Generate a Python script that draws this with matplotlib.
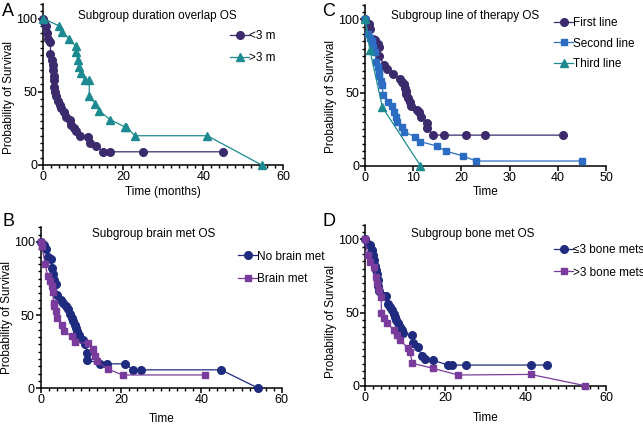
import matplotlib
matplotlib.use("Agg")
import matplotlib.pyplot as plt
from matplotlib.ticker import MultipleLocator

plt.rcParams['font.family'] = ['Liberation Sans', 'DejaVu Sans']

# ---- Panel A: duration overlap ----
a_lt3_t = [0, 0.3, 0.75, 1.0, 1.3, 1.8, 1.8, 2.2, 2.4, 2.4, 2.7, 2.7, 2.8, 3.0, 3.2, 3.7, 4.1,
           4.5, 5.2, 5.8, 6.6, 7.0, 7.7, 8.3, 9.1, 11.2, 11.6, 13.3, 14.9, 16.6, 25.0, 45.0]
a_lt3_s = [100, 98, 95, 90, 86, 84, 76, 72, 68, 65, 61, 58, 53, 50, 47, 44, 41,
           39, 36, 33, 31, 27, 25, 23, 20, 19, 15, 13, 9, 9, 9, 9]
a_gt3_t = [0, 4.0, 4.8, 6.5, 8.2, 8.2, 8.6, 9.0, 9.4, 10.4, 11.5, 11.5, 13.0, 14.0, 16.7,
           20.4, 20.8, 22.9, 41.0, 54.6]
a_gt3_s = [100, 95, 91, 86, 81, 77, 72, 67, 63, 58, 58, 47, 42, 37, 31,
           26, 26, 20, 20, 0]

# ---- Panel C: line of therapy ----
c_first_t = [0, 0.9, 1.0, 1.6, 2.1, 2.6, 2.8, 3.0, 4.0, 4.5, 5.7, 7.3, 7.6, 8.0, 8.3, 8.5, 8.6,
             9.0, 9.3, 9.5, 10.7, 11.1, 11.6, 12.8, 12.9, 14.0, 16.4, 21.0, 24.9, 41.0]
c_first_s = [100, 96.6, 93.6, 86.8, 85.7, 83.4, 81, 74.8, 68.6, 65.9, 62.5, 59, 57.3, 55.7, 53.4,
             51.1, 48.9, 46.6, 43.6, 40.7, 38, 36.8, 33.4, 29.3, 26.1, 20.9, 20.9, 20.9, 20.9, 20.9]
c_second_t = [0, 0.7, 1.0, 1.4, 1.7, 2.1, 2.3, 2.6, 2.8, 3.0, 3.3, 3.5, 3.8, 4.8, 5.5, 6.0, 6.4,
              6.6, 7.6, 8.0, 10.4, 11.5, 15.0, 16.7, 20.4, 23.0, 45.0]
c_second_s = [100, 90, 87, 85, 81, 78, 71, 67.5, 64, 61, 58, 55, 48.2, 43.6, 40.7, 36.8, 33.4,
              30, 26.6, 23.2, 19.8, 16.4, 13.4, 10, 6.6, 3.2, 3.2]
c_third_t = [0, 1.0, 3.6, 11.5]
c_third_s = [100, 79, 40, 0]

# ---- Panel B: brain met ----
b_no_t = [0, 0.8, 1.3, 1.9, 2.5, 2.7, 3.0, 3.3, 3.8, 4.1, 5.0, 5.6, 6.3, 6.9, 7.3, 7.7, 8.1, 8.5,
          8.8, 9.1, 9.6, 10.5, 11.0, 11.6, 11.6, 14.8, 16.4, 21.0, 23.1, 24.9, 44.9, 54.2]
b_no_s = [100, 98, 95, 90, 88, 82, 78, 74, 71, 64, 60.5, 58, 56, 54, 51, 48, 46, 43,
          41, 39, 36.5, 33, 30.4, 24.4, 19.4, 16.7, 16.7, 16.7, 12.6, 12.6, 12.6, 0]
b_yes_t = [0, 0.25, 1.1, 1.7, 2.2, 2.7, 3.0, 3.2, 3.4, 3.8, 4.1, 5.2, 5.8, 7.7, 8.5, 11.9,
           13.1, 13.5, 13.9, 16.8, 20.4, 41.0]
b_yes_s = [100, 97.5, 85, 77, 73, 70, 66, 58, 56, 52.5, 48, 43, 39, 35.4, 31.3, 30.8,
           26.7, 22, 18.3, 13, 9.1, 9.1]

# ---- Panel D: bone met ----
d_le3_t = [0, 0.7, 1.2, 1.7, 2.1, 2.3, 2.5, 2.7, 2.9, 3.2, 3.3, 3.6, 4.6, 5.1, 5.8, 6.2, 6.6,
           7.1, 7.5, 7.6, 8.3, 8.7, 9.1, 9.5, 11.6, 11.9, 13.1, 14.1, 14.9, 16.8, 20.7, 21.6,
           25.1, 41.2, 45.2]
d_le3_s = [100, 97, 96, 93, 89, 86, 82, 79, 76, 72, 68, 65, 61, 61, 56, 54, 52,
           49, 47, 45, 43, 40, 38, 36, 34.6, 29.4, 26.7, 20.5, 18, 17.5, 14.1, 14.1,
           14.1, 14.1, 14.1]
d_gt3_t = [0, 0.7, 1.2, 2.3, 2.7, 2.9, 3.5, 4.0, 4.1, 4.6, 5.4, 7.3, 7.9, 8.7, 10.6, 11.2,
           11.8, 17.0, 23.2, 41.2, 54.8]
d_gt3_s = [100, 89.3, 84.7, 81, 74.5, 70, 65.4, 60.8, 49.4, 46, 42.6, 38, 34.6, 31.2, 26, 22.8,
           15.3, 11.8, 7.3, 7.7, 0]

DARK_PURPLE = '#3b2b6d'
TEAL = '#1d8a91'
BLUE = '#2c6dc3'
NAVY = '#1f2b7e'
PURPLE = '#7a3c9c'

FS = 8.5


def style_axes(ax, xmax, xmajor, xminor, ylab_y):
    ax.set_xlim(0, xmax)
    ax.set_ylim(0, 110)
    ax.spines['top'].set_visible(False)
    ax.spines['right'].set_visible(False)
    for s in ('left', 'bottom'):
        ax.spines[s].set_linewidth(1.1)
    ax.xaxis.set_major_locator(MultipleLocator(xmajor))
    if xminor:
        ax.xaxis.set_minor_locator(MultipleLocator(xminor))
    ax.yaxis.set_major_locator(MultipleLocator(50))
    ax.yaxis.set_minor_locator(MultipleLocator(5))
    ax.tick_params(which='major', length=3.5, width=1.1, labelsize=9, pad=0.8)
    ax.tick_params(which='minor', length=2.3, width=1.0)
    ax.set_ylabel('Probability of Survival', fontsize=FS)
    ax.yaxis.set_label_coords(-0.117, ylab_y)


def curve(ax, t, s, color, marker, ms, label):
    ax.plot(t, s, color=color, marker=marker, markersize=ms, linewidth=0.9,
            label=label, clip_on=False, zorder=3)


fig = plt.figure(figsize=(6.43, 4.25), dpi=100)

axA = fig.add_axes([0.0673, 0.6118, 0.3733, 0.3788])
axC = fig.add_axes([0.5677, 0.6101, 0.3748, 0.3788])
axB = fig.add_axes([0.0633, 0.0864, 0.3748, 0.3788])
axD = fig.add_axes([0.5677, 0.0925, 0.3748, 0.3788])

legend_kw = dict(loc='upper left', frameon=False, fontsize=FS, handlelength=1.6,
                 handletextpad=0.0, borderaxespad=0)

# A
curve(axA, a_lt3_t, a_lt3_s, DARK_PURPLE, 'o', 5.5, '<3 m')
curve(axA, a_gt3_t, a_gt3_s, TEAL, '^', 5.5, '>3 m')
style_axes(axA, 60, 20, 2, 0.42)
axA.set_xlabel('Time (months)', fontsize=FS, labelpad=2)
axA.set_title('Subgroup duration overlap OS', fontsize=FS, y=0.855, x=0.476)
axA.legend(bbox_to_anchor=(0.76, 0.87), labelspacing=0.9, **legend_kw)

# C
curve(axC, c_first_t, c_first_s, DARK_PURPLE, 'o', 5.5, 'First line')
curve(axC, c_second_t, c_second_s, BLUE, 's', 5, 'Second line')
curve(axC, c_third_t, c_third_s, TEAL, '^', 5.5, 'Third line')
style_axes(axC, 50, 10, None, 0.43)
axC.set_xlabel('Time', fontsize=FS, labelpad=2)
axC.set_title('Subgroup line of therapy OS', fontsize=FS, y=0.86, x=0.413)
axC.legend(bbox_to_anchor=(0.765, 0.955), labelspacing=0.75, **legend_kw)

# B
curve(axB, b_no_t, b_no_s, NAVY, 'o', 5.5, 'No brain met')
curve(axB, b_yes_t, b_yes_s, PURPLE, 's', 5, 'Brain met')
style_axes(axB, 60, 20, 2, 0.44)
axB.set_xlabel('Time', fontsize=FS, labelpad=4.5)
axB.set_title('Subgroup brain met OS', fontsize=FS, y=0.89, x=0.468)
axB.legend(bbox_to_anchor=(0.80, 0.885), labelspacing=0.9, **legend_kw)

# D
curve(axD, d_le3_t, d_le3_s, NAVY, 'o', 5.5, '\u22643 bone mets')
curve(axD, d_gt3_t, d_gt3_s, PURPLE, 's', 5, '>3 bone mets')
style_axes(axD, 60, 20, 2, 0.40)
axD.set_xlabel('Time', fontsize=FS, labelpad=6)
axD.set_title('Subgroup bone met OS', fontsize=FS, y=0.87, x=0.446)
axD.legend(bbox_to_anchor=(0.765, 0.91), labelspacing=0.9, **legend_kw)

# panel letters
for letter, x, y in (('A', 2, 12), ('C', 322, 12), ('B', 3, 222), ('D', 323, 222)):
    fig.text(x / 643, 1 - y / 425, letter, fontsize=13, ha='left', va='center')

fig.savefig('out.png', dpi=100)
